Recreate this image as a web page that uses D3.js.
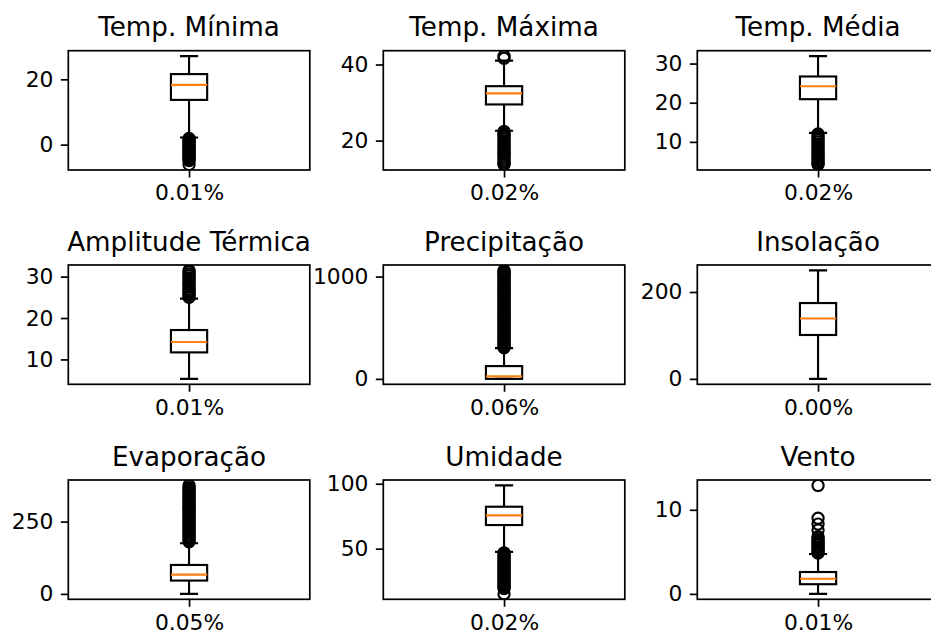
<!DOCTYPE html>
<html>
<head>
<meta charset="utf-8">
<script src="https://cdn.jsdelivr.net/npm/d3@7"></script>
<style>
  body { margin: 0; background: white; }
  svg { display: block; font-family: 'DejaVu Sans', sans-serif; }
</style>
</head>
<body>
<div id="chart"></div>
<script>
// one entry per panel, row by row
var titles = ['Temp. Mínima', 'Temp. Máxima', 'Temp. Média',
  'Amplitude Térmica', 'Precipitação', 'Insolação',
  'Evaporação', 'Umidade', 'Vento']
var missingPct = ['0.01%', '0.02%', '0.02%', '0.01%', '0.06%', '0.00%', '0.05%', '0.02%', '0.01%']

var whiskerLow = [2.2, 22.6, 12.3, 5.3, 0, 0, 0, 47.5, 0]
var q1 = [13.7, 29.5, 20.9, 11.7, 0, 101, 46, 68.2, 1.15]
var medians = [18.3, 32.4, 24.2, 14.2, 26, 139, 66.7, 75.6, 1.8]
var q3 = [21.6, 34.3, 26.7, 17.1, 125, 174.5, 100, 82.3, 2.6]
var whiskerHigh = [27.1, 41.0, 31.9, 24.7, 300, 249.6, 175, 98.7, 4.75]

var yTicks = [[0, 20], [20, 40], [10, 20, 30], [10, 20, 30], [0, 1000], [0, 200], [0, 250], [50, 100], [0, 10]]

// fliers (dense columns come out solid black)
var outMinima = [1.9, 1.5, 1.1, 0.7, 0.3, -0.1, -0.5, -0.9, -1.3, -1.7, -2.1, -2.5, -2.9, -3.3, -3.7,
  -4.1, -4.5, -4.9, -6.1]
var outMaxima = [41.6, 42.2, 22.4, 21.9, 21.4, 20.9, 20.4, 19.9, 19.4, 18.9, 18.4, 17.9, 17.4, 16.9,
  16.4, 15.9, 15.4, 14.9, 14.4, 13.9, 13.7]
var outMedia = [12.0, 11.5, 11.0, 10.5, 10.0, 9.5, 9.0, 8.5, 8.0, 7.5, 7.0, 6.5, 6.0, 5.5, 5.0, 4.6, 4.2]
var outAmplitude = [25.0, 25.5, 26.0, 26.4, 26.9, 27.4, 27.9, 28.3, 28.8, 29.3, 29.7, 30.2, 30.6, 31.1, 31.5]
var outPrecip = [305, 318, 334, 349, 362, 378, 393, 407, 424, 438, 452, 469, 483, 497, 514, 528, 543,
  557, 574, 588, 602, 619, 633, 647, 664, 678, 693, 707, 723, 738, 752, 768, 783, 797, 812, 828,
  843, 857, 872, 888, 903, 917, 933, 948, 962, 977, 993, 1008, 1022, 1036, 1049, 1060]
var outInsol = []
var outEvap = [180, 186, 192, 198, 204, 210, 216, 222, 229, 235, 241, 247, 253, 259, 265, 271, 277,
  283, 289, 295, 301, 307, 313, 319, 325, 331, 337, 343, 349, 355, 361, 367, 375]
var outUmidade = [46.8, 45.6, 44.4, 43.2, 42.0, 40.8, 39.6, 38.4, 37.2, 36.0, 34.8, 33.6, 32.4, 31.2,
  30.0, 28.8, 27.6, 26.4, 25.2, 24.0, 22.8, 21.6, 20.4, 19.3, 15.2]
var outVento = [4.85, 5.0, 5.2, 5.4, 5.6, 5.8, 6.0, 6.2, 6.4, 6.6, 6.8, 7.6, 8.3, 9.0, 12.9]
var outliers = [outMinima, outMaxima, outMedia, outAmplitude, outPrecip, outInsol, outEvap, outUmidade, outVento]

var width = 931
var height = 637
var colLeft = [68.3, 383.3, 697.3]
var rowTop = [50.7, 265, 480]
var axW = 241.5
var axH = 119.3
var pt = 2.133 // px per point
var tickFont = '21.8px'
var titleFont = '26.2px'

var svg = d3
  .select('#chart')
  .append('svg')
  .attr('width', width)
  .attr('height', height)

titles.forEach(function(title, i) {
  var left = colLeft[i % 3]
  var top = rowTop[Math.floor(i / 3)]
  var pts = outliers[i]
  var lo = d3.min([whiskerLow[i]].concat(pts))
  var hi = d3.max([whiskerHigh[i]].concat(pts))
  var pad = (hi - lo) * 0.05

  var x = d3.scaleLinear().domain([0.5, 1.5]).range([left, left + axW])
  var y = d3.scaleLinear().domain([lo - pad, hi + pad]).range([top + axH, top])

  var g = svg.append('g')

  g.append('clipPath')
    .attr('id', 'clip' + i)
    .append('rect')
    .attr('x', left)
    .attr('y', top)
    .attr('width', axW)
    .attr('height', axH)

  var plot = g.append('g').attr('clip-path', 'url(#clip' + i + ')')
  var bw = 0.15

  // box
  plot.append('rect')
    .attr('x', x(1 - bw / 2))
    .attr('y', y(q3[i]))
    .attr('width', x(1 + bw / 2) - x(1 - bw / 2))
    .attr('height', y(q1[i]) - y(q3[i]))
    .attr('fill', 'none')
    .attr('stroke', 'black')
    .attr('stroke-width', pt)

  // whiskers
  plot.selectAll('.whisker')
    .data([[q1[i], whiskerLow[i]], [q3[i], whiskerHigh[i]]])
    .enter()
    .append('line')
    .attr('x1', x(1))
    .attr('x2', x(1))
    .attr('y1', d => y(d[0]))
    .attr('y2', d => y(d[1]))
    .attr('stroke', 'black')
    .attr('stroke-width', pt)

  // caps
  plot.selectAll('.cap')
    .data([whiskerLow[i], whiskerHigh[i]])
    .enter()
    .append('line')
    .attr('x1', x(1 - bw / 4))
    .attr('x2', x(1 + bw / 4))
    .attr('y1', d => y(d))
    .attr('y2', d => y(d))
    .attr('stroke', 'black')
    .attr('stroke-width', pt)

  // median
  plot.append('line')
    .attr('x1', x(1 - bw / 2))
    .attr('x2', x(1 + bw / 2))
    .attr('y1', y(medians[i]))
    .attr('y2', y(medians[i]))
    .attr('stroke', '#ff7f0e')
    .attr('stroke-width', pt)

  // fliers
  plot.selectAll('.flier')
    .data(pts)
    .enter()
    .append('circle')
    .attr('cx', x(1))
    .attr('cy', d => y(d))
    .attr('r', 5.6)
    .attr('fill', 'none')
    .attr('stroke', 'black')
    .attr('stroke-width', pt)

  // frame
  g.append('rect')
    .attr('x', left)
    .attr('y', top)
    .attr('width', axW)
    .attr('height', axH)
    .attr('fill', 'none')
    .attr('stroke', 'black')
    .attr('stroke-width', 0.8 * pt)

  // y axis
  var yAxis = d3.axisLeft(y)
    .tickValues(yTicks[i])
    .tickSize(3.5 * pt)
    .tickPadding(3.5 * pt)
    .tickFormat(d3.format('d'))
  var ya = g.append('g')
    .attr('transform', 'translate(' + left + ',0)')
    .call(yAxis)
  ya.select('.domain').remove()
  ya.selectAll('line').attr('stroke', 'black').attr('stroke-width', 0.8 * pt)
  ya.selectAll('text')
    .attr('fill', 'black')
    .style('font-size', tickFont)
    .style('font-family', 'DejaVu Sans')

  // x axis: single tick with the missing share
  var xAxis = d3.axisBottom(x)
    .tickValues([1])
    .tickSize(3.5 * pt)
    .tickPadding(3.5 * pt)
    .tickFormat(() => missingPct[i])
  var xa = g.append('g')
    .attr('transform', 'translate(0,' + (top + axH) + ')')
    .call(xAxis)
  xa.select('.domain').remove()
  xa.selectAll('line').attr('stroke', 'black').attr('stroke-width', 0.8 * pt)
  xa.selectAll('text')
    .attr('fill', 'black')
    .style('font-size', tickFont)
    .style('font-family', 'DejaVu Sans')

  // title
  g.append('text')
    .attr('x', left + axW / 2)
    .attr('y', top - 14.5)
    .attr('text-anchor', 'middle')
    .style('font-size', titleFont)
    .style('font-family', 'DejaVu Sans')
    .text(title)
})
</script>
</body>
</html>
